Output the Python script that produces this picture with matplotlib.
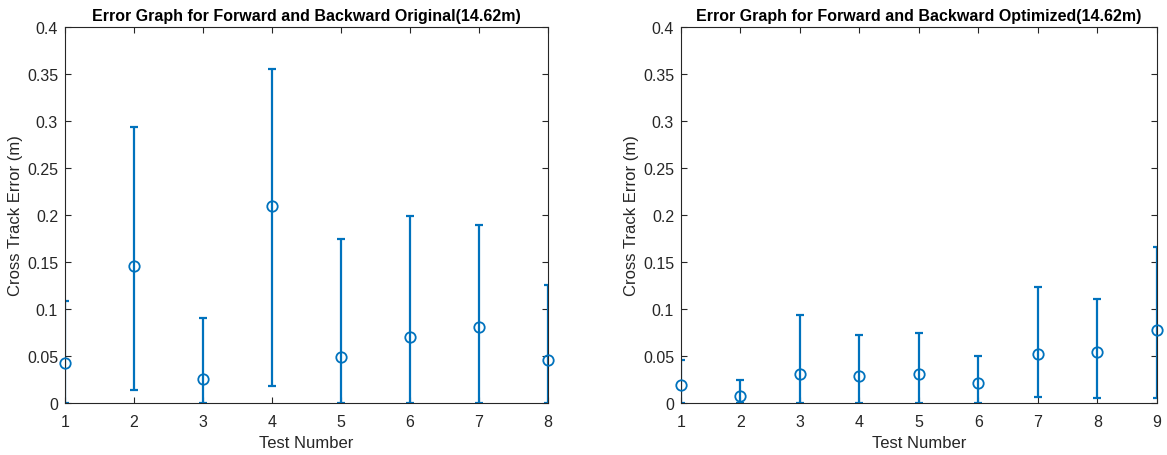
import numpy as np
import matplotlib.pyplot as plt

plt.rcParams['font.family'] = ['Liberation Sans', 'DejaVu Sans']

# forward/backward runs, original controller
test_orig = [1, 2, 3, 4, 5, 6, 7, 8]
mean_orig = [0.0427, 0.146, 0.0256, 0.2098, 0.049, 0.0704, 0.0807, 0.0455]
upper_orig = [0.108, 0.294, 0.0907, 0.3556, 0.175, 0.199, 0.1895, 0.1259]
lower_orig = [0.0, 0.0142, 0.0, 0.0178, 0.0, 0.0, 0.0, 0.0]

# forward/backward runs, optimized controller
test_opt = [1, 2, 3, 4, 5, 6, 7, 8, 9]
mean_opt = [0.0196, 0.0078, 0.0313, 0.0284, 0.0313, 0.0213, 0.0519, 0.0548, 0.0782]
upper_opt = [0.0455, 0.0249, 0.0932, 0.0725, 0.0747, 0.0498, 0.123, 0.111, 0.166]
lower_opt = [0.0, 0.0, 0.0, 0.0, 0.0, 0.0, 0.0064, 0.0057, 0.0057]

titles = ['Error Graph for Forward and Backward Original(14.62m)',
          'Error Graph for Forward and Backward Optimized(14.62m)']

blue = '#0072BD'
dark = '#262626'

fig = plt.figure(figsize=(11.67, 4.56), dpi=100)
ax1 = fig.add_axes([0.0557, 0.114, 0.4139, 0.8246])
ax2 = fig.add_axes([0.5835, 0.114, 0.4079, 0.8246])

for ax, x, m, up, lo, t in [(ax1, test_orig, mean_orig, upper_orig, lower_orig, titles[0]),
                            (ax2, test_opt, mean_opt, upper_opt, lower_opt, titles[1])]:
    m = np.array(m)
    err = [m - np.array(lo), np.array(up) - m]
    # bars are clipped at the axes, the circles are not
    ax.errorbar(x, m, yerr=err, fmt='none', ecolor=blue,
                elinewidth=1.6, capsize=3, capthick=1.6)
    ax.plot(x, m, 'o', color=blue, mfc='none', ms=7.5, mew=1.3, clip_on=False, zorder=3)
    ax.set_xlim(x[0], x[-1])
    ax.set_ylim(0, 0.4)
    ax.set_xticks(x)
    ax.set_yticks(np.arange(0, 0.41, 0.05))
    ax.set_yticklabels(['0', '0.05', '0.1', '0.15', '0.2', '0.25', '0.3', '0.35', '0.4'])
    ax.tick_params(direction='in', top=True, right=True, length=4, width=0.8,
                   colors=dark, labelsize=11.5)
    ax.tick_params(axis='x', pad=8)
    ax.tick_params(axis='y', pad=5)
    for s in ax.spines.values():
        s.set_color(dark)
        s.set_linewidth(0.8)
    ax.set_title(t, fontsize=11.5, fontweight='bold', color='black', pad=5)
    ax.set_xlabel('Test Number', fontsize=12, color=dark, labelpad=4)
    ax.set_ylabel('Cross Track Error (m)', fontsize=12, color=dark, labelpad=3)

fig.savefig('out.png', dpi=100)
